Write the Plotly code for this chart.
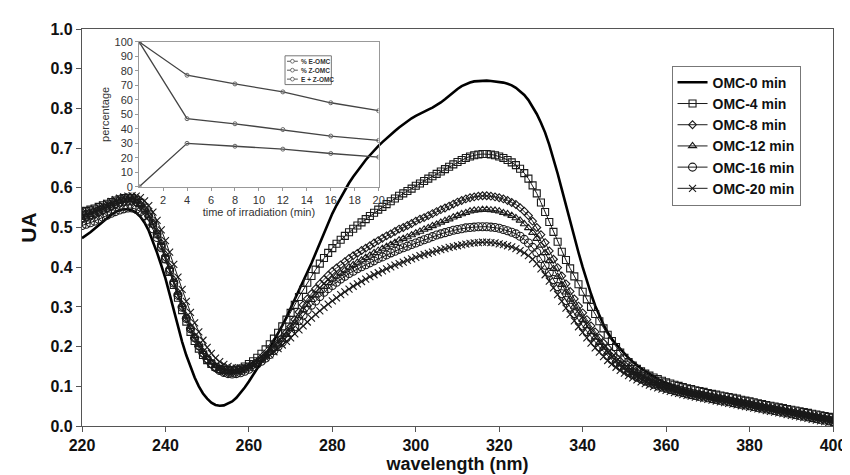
import plotly.graph_objects as go

wavelength = list(range(220, 401))

omc_0 = [
    0.473, 0.480, 0.488, 0.497, 0.506, 0.515, 0.524, 0.532, 0.539, 0.544,
    0.546, 0.546, 0.543, 0.537, 0.527, 0.512, 0.492, 0.465, 0.436, 0.405,
    0.372, 0.332, 0.290, 0.250, 0.212, 0.178, 0.148, 0.122, 0.100, 0.082,
    0.069, 0.059, 0.053, 0.051, 0.052, 0.056, 0.062, 0.071, 0.083, 0.097,
    0.112, 0.128, 0.144, 0.161, 0.178, 0.196, 0.214, 0.233, 0.253, 0.274,
    0.296, 0.318, 0.341, 0.364, 0.387, 0.410, 0.435, 0.460, 0.486, 0.511,
    0.535, 0.556, 0.576, 0.595, 0.612, 0.628, 0.643, 0.657, 0.670, 0.682,
    0.694, 0.705, 0.715, 0.725, 0.734, 0.743, 0.752, 0.760, 0.768, 0.775,
    0.781, 0.787, 0.792, 0.797, 0.802, 0.808, 0.815, 0.823, 0.832, 0.841,
    0.849, 0.856, 0.861, 0.865, 0.868, 0.869, 0.870, 0.870, 0.869, 0.868,
    0.867, 0.865, 0.862, 0.858, 0.852, 0.844, 0.834, 0.821, 0.805, 0.786,
    0.764, 0.739, 0.708, 0.674, 0.636, 0.596, 0.555, 0.515, 0.475, 0.437,
    0.400, 0.365, 0.333, 0.303, 0.277, 0.255, 0.236, 0.219, 0.206, 0.194,
    0.181, 0.171, 0.162, 0.153, 0.145, 0.138, 0.131, 0.125, 0.119, 0.113,
    0.108, 0.103, 0.099, 0.095, 0.091, 0.088, 0.085, 0.082, 0.079, 0.077,
    0.075, 0.073, 0.071, 0.069, 0.067, 0.065, 0.063, 0.061, 0.059, 0.057,
    0.055, 0.053, 0.051, 0.049, 0.047, 0.045, 0.043, 0.042, 0.040, 0.038,
    0.036, 0.035, 0.033, 0.031, 0.030, 0.028, 0.026, 0.025, 0.023, 0.022, 0.020,
]

omc_4 = [
    0.540, 0.542, 0.545, 0.548, 0.552, 0.556, 0.560, 0.564, 0.568, 0.571,
    0.574, 0.575, 0.574, 0.570, 0.562, 0.550, 0.533, 0.510, 0.483, 0.452,
    0.420, 0.388, 0.355, 0.323, 0.292, 0.263, 0.237, 0.214, 0.195, 0.179,
    0.166, 0.156, 0.149, 0.144, 0.141, 0.140, 0.140, 0.142, 0.145, 0.150,
    0.156, 0.163, 0.172, 0.182, 0.193, 0.206, 0.220, 0.235, 0.251, 0.268,
    0.285, 0.305, 0.325, 0.343, 0.361, 0.378, 0.394, 0.409, 0.423, 0.436,
    0.448, 0.459, 0.469, 0.479, 0.488, 0.497, 0.505, 0.513, 0.521, 0.529,
    0.537, 0.545, 0.552, 0.559, 0.566, 0.573, 0.580, 0.586, 0.592, 0.598,
    0.605, 0.611, 0.617, 0.623, 0.629, 0.635, 0.641, 0.647, 0.653, 0.659,
    0.665, 0.670, 0.675, 0.679, 0.682, 0.684, 0.685, 0.685, 0.684, 0.682,
    0.679, 0.675, 0.670, 0.664, 0.657, 0.648, 0.637, 0.623, 0.606, 0.586,
    0.563, 0.539, 0.514, 0.489, 0.464, 0.439, 0.418, 0.397, 0.377, 0.357,
    0.338, 0.319, 0.300, 0.282, 0.264, 0.246, 0.230, 0.214, 0.199, 0.185,
    0.172, 0.161, 0.152, 0.144, 0.138, 0.132, 0.127, 0.122, 0.118, 0.114,
    0.110, 0.107, 0.104, 0.101, 0.098, 0.095, 0.093, 0.090, 0.088, 0.086,
    0.083, 0.081, 0.079, 0.077, 0.075, 0.073, 0.071, 0.069, 0.066, 0.064,
    0.062, 0.060, 0.057, 0.055, 0.053, 0.051, 0.049, 0.047, 0.045, 0.043,
    0.041, 0.039, 0.037, 0.035, 0.033, 0.031, 0.029, 0.027, 0.025, 0.023, 0.021,
]

omc_8 = [
    0.520, 0.523, 0.527, 0.531, 0.536, 0.541, 0.546, 0.551, 0.556, 0.560,
    0.563, 0.565, 0.565, 0.562, 0.555, 0.544, 0.528, 0.507, 0.482, 0.454,
    0.424, 0.393, 0.361, 0.330, 0.300, 0.271, 0.245, 0.221, 0.200, 0.182,
    0.167, 0.155, 0.146, 0.140, 0.136, 0.134, 0.134, 0.135, 0.138, 0.142,
    0.147, 0.153, 0.160, 0.168, 0.177, 0.187, 0.198, 0.210, 0.223, 0.236,
    0.250, 0.268, 0.287, 0.305, 0.320, 0.333, 0.346, 0.358, 0.369, 0.380,
    0.390, 0.398, 0.406, 0.414, 0.422, 0.429, 0.435, 0.442, 0.448, 0.454,
    0.461, 0.467, 0.473, 0.479, 0.484, 0.490, 0.496, 0.500, 0.505, 0.510,
    0.516, 0.521, 0.525, 0.530, 0.535, 0.540, 0.545, 0.549, 0.554, 0.559,
    0.564, 0.568, 0.572, 0.575, 0.577, 0.579, 0.580, 0.580, 0.579, 0.577,
    0.575, 0.572, 0.568, 0.563, 0.558, 0.550, 0.541, 0.530, 0.516, 0.500,
    0.482, 0.462, 0.441, 0.420, 0.399, 0.378, 0.358, 0.339, 0.320, 0.302,
    0.285, 0.268, 0.252, 0.237, 0.222, 0.209, 0.196, 0.184, 0.173, 0.163,
    0.154, 0.146, 0.139, 0.133, 0.127, 0.122, 0.117, 0.113, 0.109, 0.105,
    0.101, 0.098, 0.095, 0.092, 0.089, 0.087, 0.084, 0.082, 0.080, 0.078,
    0.076, 0.074, 0.072, 0.070, 0.068, 0.066, 0.064, 0.062, 0.060, 0.058,
    0.056, 0.054, 0.052, 0.050, 0.048, 0.046, 0.044, 0.042, 0.040, 0.038,
    0.036, 0.034, 0.032, 0.030, 0.028, 0.026, 0.024, 0.022, 0.020, 0.018, 0.016,
]

omc_12 = [
    0.525, 0.528, 0.532, 0.536, 0.541, 0.546, 0.551, 0.556, 0.561, 0.565,
    0.568, 0.570, 0.570, 0.567, 0.560, 0.549, 0.533, 0.513, 0.489, 0.462,
    0.432, 0.401, 0.369, 0.337, 0.306, 0.277, 0.250, 0.226, 0.205, 0.187,
    0.172, 0.160, 0.151, 0.145, 0.141, 0.139, 0.139, 0.140, 0.142, 0.146,
    0.150, 0.155, 0.161, 0.168, 0.176, 0.185, 0.195, 0.206, 0.218, 0.230,
    0.245, 0.261, 0.277, 0.292, 0.306, 0.318, 0.330, 0.341, 0.351, 0.361,
    0.370, 0.378, 0.385, 0.393, 0.400, 0.406, 0.412, 0.418, 0.424, 0.430,
    0.436, 0.442, 0.447, 0.452, 0.457, 0.462, 0.468, 0.472, 0.476, 0.481,
    0.486, 0.490, 0.495, 0.499, 0.504, 0.508, 0.513, 0.517, 0.521, 0.526,
    0.530, 0.534, 0.537, 0.541, 0.543, 0.544, 0.545, 0.545, 0.544, 0.543,
    0.541, 0.537, 0.534, 0.530, 0.524, 0.518, 0.509, 0.499, 0.487, 0.472,
    0.455, 0.436, 0.416, 0.396, 0.376, 0.356, 0.337, 0.319, 0.301, 0.284,
    0.268, 0.252, 0.237, 0.223, 0.210, 0.198, 0.186, 0.175, 0.165, 0.156,
    0.148, 0.141, 0.134, 0.128, 0.123, 0.118, 0.113, 0.109, 0.105, 0.101,
    0.098, 0.095, 0.092, 0.089, 0.086, 0.084, 0.081, 0.079, 0.077, 0.075,
    0.073, 0.071, 0.069, 0.067, 0.065, 0.063, 0.061, 0.059, 0.057, 0.055,
    0.053, 0.051, 0.049, 0.047, 0.045, 0.043, 0.041, 0.039, 0.037, 0.035,
    0.033, 0.031, 0.029, 0.027, 0.025, 0.023, 0.021, 0.019, 0.017, 0.015, 0.013,
]

omc_16 = [
    0.505, 0.508, 0.512, 0.516, 0.521, 0.526, 0.531, 0.536, 0.540, 0.544,
    0.547, 0.549, 0.549, 0.546, 0.540, 0.530, 0.516, 0.497, 0.475, 0.449,
    0.421, 0.391, 0.360, 0.329, 0.299, 0.271, 0.245, 0.222, 0.202, 0.184,
    0.169, 0.157, 0.147, 0.140, 0.135, 0.132, 0.131, 0.132, 0.134, 0.138,
    0.143, 0.149, 0.156, 0.163, 0.171, 0.180, 0.190, 0.200, 0.211, 0.222,
    0.236, 0.250, 0.265, 0.279, 0.292, 0.304, 0.315, 0.326, 0.337, 0.346,
    0.354, 0.362, 0.370, 0.377, 0.384, 0.390, 0.396, 0.401, 0.406, 0.411,
    0.416, 0.422, 0.426, 0.431, 0.436, 0.440, 0.445, 0.449, 0.453, 0.457,
    0.461, 0.465, 0.469, 0.473, 0.477, 0.481, 0.484, 0.487, 0.490, 0.493,
    0.495, 0.497, 0.499, 0.500, 0.501, 0.502, 0.502, 0.502, 0.501, 0.500,
    0.498, 0.495, 0.492, 0.488, 0.484, 0.478, 0.470, 0.461, 0.450, 0.437,
    0.422, 0.405, 0.387, 0.369, 0.351, 0.333, 0.316, 0.299, 0.283, 0.267,
    0.252, 0.238, 0.224, 0.211, 0.199, 0.188, 0.177, 0.167, 0.158, 0.150,
    0.142, 0.135, 0.129, 0.123, 0.118, 0.113, 0.109, 0.105, 0.101, 0.098,
    0.095, 0.092, 0.089, 0.086, 0.084, 0.081, 0.079, 0.077, 0.075, 0.073,
    0.071, 0.069, 0.067, 0.065, 0.063, 0.061, 0.059, 0.057, 0.055, 0.053,
    0.051, 0.049, 0.047, 0.045, 0.043, 0.041, 0.039, 0.037, 0.035, 0.033,
    0.031, 0.029, 0.027, 0.025, 0.023, 0.021, 0.019, 0.017, 0.015, 0.013, 0.011,
]

omc_20 = [
    0.535, 0.538, 0.542, 0.546, 0.551, 0.556, 0.561, 0.566, 0.570, 0.574,
    0.577, 0.579, 0.580, 0.579, 0.575, 0.567, 0.555, 0.539, 0.518, 0.494,
    0.467, 0.438, 0.407, 0.375, 0.344, 0.314, 0.286, 0.260, 0.237, 0.216,
    0.198, 0.183, 0.171, 0.162, 0.155, 0.150, 0.147, 0.146, 0.146, 0.148,
    0.151, 0.155, 0.160, 0.166, 0.172, 0.179, 0.187, 0.195, 0.204, 0.213,
    0.222, 0.232, 0.242, 0.252, 0.262, 0.272, 0.281, 0.290, 0.299, 0.307,
    0.315, 0.323, 0.331, 0.338, 0.345, 0.352, 0.358, 0.364, 0.370, 0.376,
    0.381, 0.386, 0.391, 0.396, 0.401, 0.405, 0.409, 0.413, 0.417, 0.421,
    0.425, 0.429, 0.432, 0.435, 0.438, 0.441, 0.444, 0.447, 0.450, 0.452,
    0.454, 0.456, 0.458, 0.460, 0.461, 0.462, 0.463, 0.463, 0.462, 0.461,
    0.459, 0.457, 0.454, 0.451, 0.447, 0.442, 0.436, 0.429, 0.420, 0.409,
    0.396, 0.381, 0.365, 0.348, 0.331, 0.314, 0.297, 0.281, 0.265, 0.250,
    0.236, 0.222, 0.209, 0.197, 0.186, 0.175, 0.165, 0.156, 0.148, 0.140,
    0.133, 0.127, 0.121, 0.116, 0.111, 0.107, 0.103, 0.099, 0.096, 0.093,
    0.090, 0.087, 0.084, 0.082, 0.079, 0.077, 0.075, 0.073, 0.071, 0.069,
    0.067, 0.065, 0.063, 0.061, 0.059, 0.057, 0.055, 0.053, 0.051, 0.049,
    0.047, 0.045, 0.043, 0.041, 0.039, 0.037, 0.035, 0.033, 0.031, 0.029,
    0.027, 0.025, 0.023, 0.021, 0.019, 0.017, 0.015, 0.013, 0.011, 0.009, 0.007,
]

# inset data
irr_time = [0, 4, 8, 12, 16, 20]
pct_e = [100, 47, 43.5, 39.5, 35, 32]
pct_z = [0, 30, 28, 26, 23, 20.5]
pct_ez = [100, 77, 71, 65.5, 58, 52.5]
inset_names = ["% E-OMC", "% Z-OMC", "E + Z-OMC"]

series_names = ["OMC-0 min", "OMC-4 min", "OMC-8 min", "OMC-12 min", "OMC-16 min", "OMC-20 min"]
series_vals = [omc_0, omc_4, omc_8, omc_12, omc_16, omc_20]
symbols = [None, "square-open", "diamond-open", "triangle-up-open", "circle-open", "x-thin-open"]
sizes = [0, 7, 6, 7, 8, 7]

FONT = "Liberation Sans, Arial, sans-serif"
DARK = "#1a1a1a"
INSET_GRAY = "#555555"

fig = go.Figure()

for name, vals, sym, sz in zip(series_names, series_vals, symbols, sizes):
    if sym is None:
        fig.add_trace(go.Scatter(x=wavelength, y=vals, name=name, mode="lines",
                                 line=dict(color="#000000", width=2.6)))
    else:
        fig.add_trace(go.Scatter(x=wavelength, y=vals, name=name, mode="lines+markers",
                                 line=dict(color=DARK, width=1),
                                 marker=dict(symbol=sym, size=sz, color=DARK,
                                             line=dict(color=DARK, width=1.1))))

for name, vals in zip(inset_names, [pct_e, pct_z, pct_ez]):
    fig.add_trace(go.Scatter(x=irr_time, y=vals, name=name, mode="lines+markers",
                             xaxis="x2", yaxis="y2", showlegend=False,
                             line=dict(color="#444444", width=1.3),
                             marker=dict(symbol="circle-open", size=4, color="#666666",
                                         line=dict(color="#666666", width=1))))

# compact inset legend (box + key glyphs + labels), placed in paper coordinates
W, H = 762.0, 400.0          # plot-area size in px
def px(x):  # pixel x -> paper
    return (x - 74) / W
def py(y):  # pixel y -> paper
    return (421 - y) / H

shapes = [dict(type="rect", xref="paper", yref="paper",
               x0=px(280), x1=px(327), y0=py(77), y1=py(48),
               line=dict(color="#777777", width=1), fillcolor="white", layer="above")]
annotations = []
for i, name in enumerate(inset_names):
    yc = 53.5 + i * 9.0
    shapes.append(dict(type="line", xref="paper", yref="paper",
                       x0=px(282), x1=px(293), y0=py(yc), y1=py(yc),
                       line=dict(color=INSET_GRAY, width=1), layer="above"))
    shapes.append(dict(type="circle", xref="paper", yref="paper",
                       x0=px(285.6), x1=px(289.4), y0=py(yc + 1.9), y1=py(yc - 1.9),
                       line=dict(color=INSET_GRAY, width=0.8), fillcolor="white", layer="above"))
    annotations.append(dict(text=name, xref="paper", yref="paper", x=px(294.5), y=py(yc),
                            xanchor="left", yanchor="middle", showarrow=False,
                            font=dict(size=6.5, family=FONT, weight="bold", color="#333333")))

fig.update_layout(
    width=850, height=475,
    margin=dict(l=74, r=14, t=21, b=54),
    paper_bgcolor="white", plot_bgcolor="rgba(0,0,0,0)",
    font=dict(family=FONT, color="#111111"),
    showlegend=True,
    shapes=shapes, annotations=annotations,
    xaxis=dict(range=[220, 400], dtick=20, tick0=220, showgrid=False, zeroline=False,
               showline=True, linecolor="#555555", linewidth=1.2, mirror=True,
               ticks="outside", ticklen=5, tickcolor="#555555",
               tickfont=dict(size=16, family=FONT, weight="bold", color="#111111"),
               title=dict(text="wavelength (nm)", standoff=4,
                          font=dict(size=18, family=FONT, weight="bold", color="#111111"))),
    yaxis=dict(range=[0, 1], dtick=0.1, tickformat=".1f", showgrid=False, zeroline=False,
               showline=True, linecolor="#555555", linewidth=1.2, mirror=True,
               ticks="outside", ticklen=5, tickcolor="#555555",
               tickfont=dict(size=16, family=FONT, weight="bold", color="#111111"),
               title=dict(text="UA", standoff=8,
                          font=dict(size=21, family=FONT, weight="bold", color="#111111"))),
    xaxis2=dict(domain=[0.0761, 0.395], anchor="y2", range=[0, 20],
                tickvals=[2, 4, 6, 8, 10, 12, 14, 16, 18, 20],
                showgrid=False, zeroline=False, showline=True, linecolor="#999999",
                linewidth=1, mirror=True, ticks="outside", ticklen=3, tickcolor="#999999",
                tickfont=dict(size=11, family=FONT, color="#333333"),
                title=dict(text="time of irradiation (min)", standoff=2,
                           font=dict(size=11, family=FONT, color="#333333"))),
    yaxis2=dict(domain=[0.6025, 0.9675], anchor="x2", range=[0, 100], dtick=10,
                showgrid=False, zeroline=False, showline=True, linecolor="#999999",
                linewidth=1, mirror=True, ticks="outside", ticklen=3, tickcolor="#999999",
                tickfont=dict(size=11, family=FONT, color="#333333"),
                title=dict(text="percentage", standoff=2,
                           font=dict(size=11, family=FONT, color="#333333"))),
    legend=dict(x=0.785, y=0.9075, xanchor="left", yanchor="top",
                bgcolor="white", bordercolor="#777777", borderwidth=1,
                font=dict(size=14, family=FONT, weight="bold", color="#111111"),
                tracegroupgap=0, itemwidth=30),
)

fig.write_html("out.html")
